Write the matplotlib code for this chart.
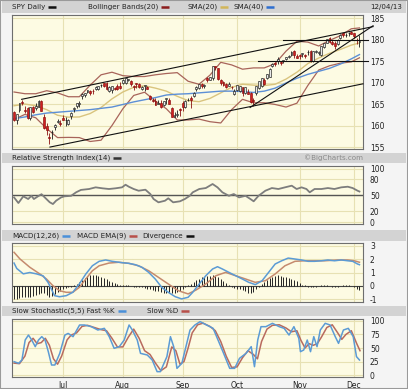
#!/usr/bin/env python3
"""SPY daily chart with Bollinger bands, RSI, MACD and slow stochastic panels."""

import matplotlib

matplotlib.use("Agg")
import matplotlib.pyplot as plt
import numpy as np
import pandas as pd
from matplotlib.lines import Line2D
from matplotlib.patches import Rectangle

# ---- data ----
holidays = ["2013-07-04", "2013-09-02", "2013-11-28"]
trading_days = pd.bdate_range("2013-06-05", "2013-12-04").drop(pd.to_datetime(holidays))

opens = [
    163.1, 161.3, 163.5, 165.4, 163.6, 164.1, 161.8, 164.2, 164.1, 164.4,
    165.6, 162.0, 160.0, 157.4, 158.4, 159.6, 160.9, 160.6, 161.8, 161.2,
    160.3, 162.3, 163.9, 164.6, 164.9, 166.8, 167.2, 167.8, 168.1, 168.0,
    168.4, 168.4, 169.4, 169.8, 170.0, 168.0, 168.2, 168.7, 169.1, 169.1,
    169.8, 170.0, 170.7, 170.4, 169.3, 169.8, 169.6, 168.4, 169.1, 169.0,
    166.9, 166.0, 165.6, 165.0, 165.2, 164.7, 166.2, 166.0, 164.1, 162.0,
    162.4, 163.9, 165.2, 164.4, 165.9, 166.4, 166.8, 168.6, 168.7, 169.7,
    169.3, 171.1, 170.6, 171.1, 173.8, 173.3, 170.6, 170.1, 169.7, 169.3,
    169.0, 167.4, 168.2, 168.1, 168.9, 167.5, 167.8, 167.6, 165.9, 167.5,
    168.8, 169.1, 170.6, 171.1, 171.4, 173.9, 174.4, 175.1, 174.8, 174.9,
    175.5, 175.9, 176.5, 177.3, 176.1, 176.4, 176.6, 176.3, 177.0, 177.4,
    175.0, 177.1, 176.9, 176.5, 178.3, 179.3, 180.3, 179.4, 179.3, 179.0,
    180.3, 181.5, 181.0, 181.4, 181.8, 181.6, 180.0, 179.5,
]
highs = [
    163.4, 162.8, 165.3, 165.9, 164.6, 164.3, 164.4, 164.5, 165.2, 165.9,
    165.9, 162.7, 160.5, 158.2, 158.9, 160.3, 161.6, 161.3, 162.4, 162.1,
    161.6, 163.1, 164.4, 165.3, 165.6, 167.5, 167.6, 168.3, 168.3, 168.4,
    169.2, 169.3, 169.7, 169.9, 170.1, 169.2, 169.2, 169.0, 169.6, 170.1,
    170.8, 171.0, 170.9, 170.5, 169.4, 170.0, 170.0, 169.1, 169.5, 169.1,
    167.2, 166.5, 166.4, 166.0, 166.0, 165.7, 166.3, 166.5, 164.3, 163.2,
    163.6, 164.0, 165.8, 165.9, 166.4, 166.9, 167.8, 169.1, 169.7, 169.8,
    169.6, 171.3, 171.3, 173.9, 173.9, 173.3, 170.9, 170.4, 169.9, 170.1,
    169.1, 168.4, 169.5, 169.2, 169.0, 168.9, 168.4, 167.8, 166.3, 169.2,
    170.3, 171.1, 171.0, 172.1, 173.3, 174.6, 174.8, 175.9, 175.0, 175.2,
    176.0, 176.3, 177.3, 177.5, 176.7, 176.6, 176.9, 176.7, 177.5, 177.5,
    177.3, 177.5, 177.3, 178.4, 179.3, 180.1, 180.5, 180.0, 179.7, 180.1,
    181.2, 181.6, 181.5, 181.7, 182.0, 181.6, 180.3, 181.0,
]
lows = [
    161.0, 160.3, 163.2, 164.7, 162.9, 161.6, 161.2, 162.9, 163.6, 164.4,
    163.4, 159.2, 157.8, 155.7, 156.9, 158.9, 160.6, 159.9, 161.2, 159.9,
    160.1, 161.6, 163.2, 164.1, 164.3, 166.2, 166.7, 167.5, 167.1, 167.4,
    168.2, 168.3, 169.0, 169.0, 168.3, 167.9, 167.6, 168.3, 168.3, 168.5,
    169.7, 169.7, 170.3, 169.3, 168.3, 168.7, 168.7, 168.3, 168.1, 168.4,
    165.9, 165.5, 164.8, 164.9, 164.1, 164.5, 165.1, 165.0, 161.9, 161.9,
    162.1, 162.3, 163.4, 164.1, 165.8, 164.0, 166.7, 168.1, 168.6, 168.8,
    168.7, 170.2, 170.5, 170.5, 173.0, 170.6, 169.5, 169.2, 168.8, 169.2,
    168.4, 167.1, 168.1, 167.8, 166.9, 167.4, 167.4, 165.3, 164.5, 167.1,
    168.6, 168.9, 169.5, 170.8, 171.4, 173.6, 173.9, 174.4, 174.0, 174.5,
    175.3, 175.7, 176.2, 175.7, 175.6, 175.5, 176.0, 175.8, 176.3, 174.7,
    174.8, 176.9, 176.3, 176.2, 178.0, 179.2, 179.1, 178.8, 177.7, 178.7,
    180.1, 180.7, 180.7, 180.8, 181.2, 180.4, 179.0, 178.3,
]
closes = [
    161.27, 162.73, 165.19, 165.17, 163.36, 161.86, 164.21, 163.18, 164.44, 165.74,
    163.45, 159.40, 159.07, 157.06, 158.57, 160.14, 161.08, 160.42, 161.36, 161.21,
    161.28, 163.02, 163.95, 165.13, 165.19, 167.44, 167.51, 168.15, 167.52, 167.95,
    168.87, 169.17, 169.50, 169.14, 168.52, 169.07, 169.13, 168.59, 168.59, 168.71,
    170.66, 170.95, 170.70, 169.73, 168.87, 169.62, 169.01, 168.94, 169.32, 168.46,
    166.06, 165.62, 164.87, 165.34, 164.36, 165.67, 166.30, 165.01, 162.00, 162.37,
    162.77, 163.65, 164.39, 165.75, 166.04, 166.04, 167.63, 169.04, 169.70, 169.16,
    169.54, 170.50, 171.26, 173.76, 173.57, 170.72, 169.93, 169.53, 169.04, 169.69,
    168.91, 168.01, 169.34, 169.18, 167.62, 168.89, 167.43, 165.48, 165.60, 169.17,
    170.26, 170.94, 169.70, 172.07, 173.22, 174.40, 174.37, 175.39, 174.55, 175.15,
    175.95, 176.23, 177.17, 176.29, 175.79, 176.21, 176.83, 176.27, 177.17, 174.93,
    177.29, 177.32, 176.96, 178.38, 179.28, 180.05, 179.42, 179.03, 178.40, 179.94,
    181.12, 180.98, 181.01, 181.48, 181.31, 180.79, 179.88, 179.72,
]

band_days = [0, 4, 8, 12, 16, 20, 24, 28, 32, 36, 40, 44, 48, 52, 56, 60, 64,
             68, 72, 76, 80, 84, 88, 92, 96, 100, 104, 108, 112, 116, 120, 124, 127]
bb_upper = [167.8, 167.4, 167.4, 168.1, 167.6, 166.7, 166.7, 169.4, 171.8, 172.4,
            171.6, 171.4, 171.4, 171.8, 172.1, 172.3, 170.3, 169.6, 171.7, 174.7,
            174.1, 173.1, 173.4, 173.4, 174.4, 177.3, 179.6, 179.4, 178.5, 179.8,
            180.9, 182.5, 182.7]
bb_lower = [161.4, 162.6, 161.8, 159.3, 157.2, 157.25, 157.2, 156.3, 156.6, 160.0,
            163.9, 167.0, 167.75, 165.7, 163.9, 161.3, 161.3, 161.5, 160.9, 160.6,
            163.7, 166.1, 165.3, 165.3, 164.9, 164.3, 165.2, 169.3, 172.9, 173.9,
            174.5, 174.8, 175.75]
sma20 = [164.6, 165.0, 164.6, 163.7, 162.4, 161.95, 162.0, 162.8, 164.2, 166.2,
         167.8, 168.9, 169.25, 168.7, 168.0, 166.8, 165.8, 165.55, 166.3, 167.6,
         168.9, 169.6, 169.4, 169.3, 169.6, 170.8, 172.4, 174.4, 175.7, 176.8,
         177.7, 178.7, 179.2]
sma40 = [161.6, 162.0, 162.5, 162.9, 163.1, 163.3, 163.5, 163.7, 164.0, 164.3,
         164.9, 165.5, 166.0, 166.5, 167.1, 167.3, 167.4, 167.6, 167.8, 168.0,
         168.0, 167.9, 167.7, 168.0, 168.7, 169.9, 171.0, 171.9, 172.6, 173.3,
         174.3, 175.5, 176.5]

# hand-drawn trend lines: start day, start price, end day, end price
trend_start_day = [2.8, 13.2, 98.9, 89.7, 86.8]
trend_start_price = [166.1, 155.0, 180.0, 175.0, 164.2]
trend_end_day = [132.0, 128.3, 130.0, 130.0, 132.0]
trend_end_price = [183.0, 169.7, 180.0, 175.0, 183.2]

rsi_days = [0, 1.6, 3.4, 5.2, 6.4, 7.3, 8.8, 10.1, 11.3, 13.1,
            14.3, 15.5, 17.3, 18.5, 21, 22.8, 24.6, 27.6, 30, 32.5,
            34.9, 37.3, 39.7, 41, 42.2, 44, 45.8, 48.3, 50.1, 51.3,
            53.1, 55.5, 56.7, 58.5, 61, 62.8, 64.6, 65.7, 68.1, 70.5,
            73, 74.8, 76.6, 79, 80.8, 82.7, 85.1, 86.9, 88.1, 89.9,
            92.4, 94.8, 97.2, 99.6, 102.1, 103.9, 105.7, 107.5, 108.7, 110.5,
            113, 115.4, 117.8, 120.3, 122.7, 124.5, 126.3, 127]
rsi_values = [46, 35.5, 48, 43, 49, 43, 48, 52, 46, 37,
              33.6, 40, 46, 48, 49, 55.5, 60, 61.7, 64.8, 63,
              61.7, 63, 64.8, 69.7, 66, 61.7, 58.5, 60.4, 52.3, 43,
              36.8, 39.8, 44.3, 36.8, 38.7, 43, 49, 55.5, 61.7, 63.5,
              71, 64.8, 55.5, 49, 52.3, 46, 49, 43, 38.7, 49,
              58.5, 63.5, 61.7, 64.8, 67.9, 61.7, 64.8, 61.7, 55.5, 61.7,
              61.7, 63.5, 61.7, 64.8, 66, 63.5, 58.5, 57]

macd_days = [0, 1, 3.4, 5.8, 8.2, 10.7, 12.5, 13.7, 14.9, 16.7,
             19.2, 21.6, 24, 26.4, 28.8, 31.3, 33.7, 36.1, 39.7, 42.2,
             44.6, 47, 49.5, 51.9, 54.3, 56.7, 59.2, 61.6, 64, 65.7,
             68.1, 70.5, 73, 74.8, 76.6, 79, 81.5, 83.9, 86.3, 88.7,
             91.2, 93.6, 96, 98.4, 100.8, 103.3, 105.7, 108.1, 110.5, 113,
             115.4, 117.8, 120.3, 122.7, 124.5, 126.3, 127]
macd_values = [1.7, 1.3, 0.9, 1.0, 0.9, 0.75, 0.27, -0.22, -0.72, -0.8,
               -0.72, -0.47, 0.15, 0.89, 1.5, 1.83, 1.93, 1.83, 1.73, 1.68,
               1.58, 1.39, 1.01, 0.52, -0.1, -0.47, -0.79, -0.96, -0.84, -0.47,
               0.15, 0.76, 1.26, 1.43, 1.26, 1.01, 0.76, 0.52, 0.27, 0.1,
               0.39, 1.01, 1.63, 1.87, 2.07, 2.0, 1.93, 1.83, 1.83, 1.87,
               1.93, 1.87, 1.93, 1.87, 1.83, 1.63, 1.58]
signal_days = [0, 2.2, 5.8, 9.5, 11.9, 14.3, 16.7, 19.2, 21.6, 24,
               26.4, 28.8, 31.3, 34.9, 38.5, 42.2, 45.8, 49.5, 53.1, 56.7,
               60.4, 64, 66.9, 70.5, 74.2, 77.8, 81.5, 85.1, 88.7, 92.4,
               96, 99.6, 103.3, 106.9, 110.5, 114.2, 119, 122.7, 125.1, 127]
signal_values = [2.5, 2.0, 1.39, 0.89, 0.52, 0.02, -0.35, -0.47, -0.47, -0.1,
                 0.52, 1.13, 1.5, 1.7, 1.76, 1.68, 1.5, 1.13, 0.64, 0.15,
                 -0.35, -0.59, -0.3, 0.15, 0.76, 1.01, 0.76, 0.52, 0.27, 0.39,
                 0.89, 1.5, 1.83, 1.87, 1.87, 1.87, 1.93, 1.93, 1.87, 1.76]
divergence = [
    -0.95, -0.95, -0.9, -0.85, -0.85, -0.8, -0.8, -0.75, -0.7, -0.6,
    -0.5, -0.5, -0.65, -0.8, -0.75, -0.6, -0.45, -0.35, -0.25, -0.15,
    -0.1, -0.05, 0.05, 0.15, 0.3, 0.45, 0.6, 0.75, 0.8, 0.85,
    0.8, 0.75, 0.7, 0.6, 0.5, 0.4, 0.3, 0.25, 0.15, 0.1,
    0.1, 0.1, 0.05, 0.0, -0.05, -0.1, -0.1, -0.1, -0.15, -0.2,
    -0.25, -0.3, -0.35, -0.4, -0.45, -0.5, -0.5, -0.5, -0.55, -0.5,
    -0.45, -0.35, -0.25, -0.1, 0.05, 0.15, 0.3, 0.45, 0.55, 0.65,
    0.7, 0.75, 0.75, 0.8, 0.75, 0.65, 0.5, 0.35, 0.2, 0.1,
    -0.05, -0.15, -0.2, -0.25, -0.3, -0.4, -0.5, -0.55, -0.45, -0.25,
    -0.05, 0.15, 0.3, 0.45, 0.6, 0.7, 0.75, 0.8, 0.75, 0.7,
    0.65, 0.6, 0.55, 0.45, 0.35, 0.2, 0.1, 0.05, -0.05, -0.1,
    -0.05, -0.05, 0.0, 0.05, 0.05, 0.05, 0.0, -0.05, -0.1, -0.05,
    0.0, 0.05, 0.05, 0.05, 0.0, -0.1, -0.2, -0.3,
]

stoch_k_days = [0, 1.7, 2.9, 4.1, 5.3, 6.5, 7.8, 9.0, 10.2, 11.4,
                12.6, 13.8, 15.0, 16.8, 18.7, 19.9, 21.7, 24.1, 25.9, 28.4,
                30.8, 33.2, 35.0, 36.8, 38.7, 40.5, 42.3, 43.5, 45.3, 46.5,
                49.0, 50.8, 52.6, 53.8, 56.2, 57.5, 58.7, 59.9, 61.7, 63.5,
                64.7, 66.5, 68.4, 70.8, 73.2, 75.0, 76.8, 79.3, 81.1, 82.9,
                85.3, 87.2, 88.4, 89.6, 90.8, 92.6, 95.0, 97.5, 99.3, 101.1,
                102.9, 104.7, 105.3, 106.5, 107.8, 109.0, 110.2, 111.4, 112.6, 114.4,
                116.2, 118.1, 119.3, 121.1, 122.9, 124.7, 125.9, 127]
stoch_k_values = [24.7, 21.6, 27.8, 64.8, 74, 64.8, 52.5, 64.8, 71, 64.8,
                  43.2, 18.5, 18.5, 40, 74, 77, 71, 92.6, 92.6, 89.5,
                  83.3, 86.4, 71, 49.4, 52.5, 64.8, 92.6, 83.3, 64.8, 40.1,
                  37, 27.8, 6.2, 6.2, 34, 71, 52.5, 12.3, 21.6, 58.6,
                  83.3, 92.6, 98.8, 92.6, 86.4, 64.8, 43.2, 12.3, 12.3, 30.9,
                  40.1, 52.5, 15.4, 64.8, 89.5, 89.5, 95.7, 89.5, 86.4, 74,
                  89.5, 67.9, 43.2, 46.3, 64.8, 43.2, 71, 52.5, 83.3, 95.7,
                  92.6, 71, 58.6, 83.3, 86.4, 71, 34, 27.8]
stoch_d_days = [0, 2, 4, 5.5, 7, 8.5, 10, 11.5, 13, 14.5,
                16, 17.5, 19.5, 21, 23, 25, 27, 29.5, 32, 34,
                36, 38, 40, 42, 44, 46, 48, 50, 52, 54,
                56, 58, 59.5, 61, 62.5, 64, 65.5, 67.5, 69.5, 72,
                74, 76, 78, 80, 82, 84, 86, 88, 89.5, 91,
                93, 95, 97.5, 100, 102, 104, 105.5, 107, 108.5, 110,
                111.5, 113, 115, 117, 119, 120.5, 122, 124, 126, 127.2]
stoch_d_values = [22, 21, 35, 60, 68, 58, 60, 68, 55, 30,
                  20, 35, 65, 74, 78, 90, 92, 88, 84, 82,
                  68, 52, 52, 70, 85, 68, 45, 38, 22, 8,
                  15, 52, 45, 20, 25, 50, 78, 93, 96, 90,
                  82, 62, 35, 14, 15, 32, 45, 38, 30, 62,
                  85, 92, 93, 87, 80, 82, 64, 50, 58, 55,
                  58, 70, 88, 93, 78, 66, 75, 82, 58, 45]

# ---- layout ----
W, H = 408, 389
TEXT = "#222222"
PANEL_BG = "#fdfbe3"
GRID = "#e7e1b3"
BAR_BG = "#d3d3d3"
PAGE_BG = "#f4f4f4"
FS = 5.5
HEAD_FS = 5.1

plt.rcParams["font.family"] = ["DejaVu Sans"]
plt.rcParams["axes.unicode_minus"] = False

x = np.arange(len(closes))
month_pos = [i for i in range(1, len(trading_days))
             if trading_days[i].month != trading_days[i - 1].month]
month_labels = [trading_days[i].strftime("%b") for i in month_pos]


def fig_rect(left, top, right, bottom):
    return [left / W, 1 - bottom / H, (right - left) / W, (bottom - top) / H]


def header(fig, top, bottom, entries, right_text=None, right_x=None, right_color=TEXT):
    fig.add_artist(Rectangle((2 / W, 1 - bottom / H), (W - 4) / W, (bottom - top) / H,
                             transform=fig.transFigure, facecolor=BAR_BG,
                             edgecolor="none", zorder=0))
    yc = 1 - (top + bottom) / 2 / H
    renderer = fig.canvas.get_renderer()
    for tx, label, color in entries:
        t = fig.text(tx / W, yc, label, fontsize=HEAD_FS, color=TEXT, va="center", ha="left")
        end = t.get_window_extent(renderer).x1 + 3
        fig.add_artist(Line2D([end / W, (end + 8) / W], [yc, yc],
                              transform=fig.transFigure, color=color, lw=1.8,
                              solid_capstyle="butt"))
    if right_text:
        fig.text(right_x / W, yc, right_text, fontsize=HEAD_FS, color=right_color,
                 va="center", ha="right")


def panel(fig, top, bottom, ylim, yticks, ylabels):
    ax = fig.add_axes(fig_rect(12, top, 363, bottom))
    ax.set_facecolor(PANEL_BG)
    ax.set_xlim(-0.75, 128.3)
    ax.set_ylim(*ylim)
    ax.set_xticks(month_pos)
    ax.set_yticks(yticks)
    ax.set_yticklabels(ylabels)
    ax.grid(True, color=GRID, lw=0.8)
    ax.set_axisbelow(True)
    ax.yaxis.tick_right()
    ax.tick_params(axis="y", length=0, pad=5, labelsize=FS, labelcolor=TEXT)
    ax.tick_params(axis="x", length=0, labelbottom=False)
    for spine in ax.spines.values():
        spine.set_color("#6e6e6e")
        spine.set_linewidth(0.8)
    return ax


fig = plt.figure(figsize=(W / 100, H / 100), dpi=100, facecolor=PAGE_BG)
fig.add_artist(Rectangle((0, 0), 1, 1, transform=fig.transFigure, fill=False,
                         edgecolor="#9a9a9a", lw=1.5))

# price panel
header(fig, 1, 13,
       [(12, "SPY Daily", "#111111"),
        (88, "Bollinger Bands(20)", "#8b1c1c"),
        (187, "SMA(20)", "#d2b65a"),
        (233, "SMA(40)", "#2e6fd0")],
       right_text="12/04/13", right_x=402)
price_ticks = [155, 160, 165, 170, 175, 180, 185]
ax = panel(fig, 15, 149, (154.55, 185.7), price_ticks, [str(t) for t in price_ticks])
ax.plot(band_days, bb_upper, color="#a8645a", lw=0.9, zorder=2)
ax.plot(band_days, bb_lower, color="#a8645a", lw=0.9, zorder=2)
ax.plot(band_days, sma20, color="#d9c47e", lw=1.0, zorder=2)
ax.plot(band_days, sma40, color="#5c8fd6", lw=1.0, zorder=2)

o, h, l, c = (np.array(v) for v in (opens, highs, lows, closes))
up = c >= o
ax.vlines(x, l, h, colors=np.where(up, "#1a1a1a", "#8a1010"), lw=0.6, zorder=4)
ax.bar(x, np.maximum(np.abs(c - o), 0.12), bottom=np.minimum(o, c), width=0.7,
       color=np.where(up, "#e8e8e8", "#d02020"),
       edgecolor=np.where(up, "#1a1a1a", "#8a1010"), lw=0.45, zorder=5)
for sd, sp, ed, ep in zip(trend_start_day, trend_start_price, trend_end_day, trend_end_price):
    ax.plot([sd, ed], [sp, ep], color="#111111", lw=0.8, clip_on=False, zorder=6)

# RSI panel
header(fig, 153, 163, [(12, "Relative Strength Index(14)", "#333333")],
       right_text="\u00a9BigCharts.com", right_x=363, right_color="#8a8a8a")
ax = panel(fig, 166, 224, (-3.7, 104.7), [0, 20, 50, 80, 100],
           ["0", "20", "50", "80", "100"])
ax.axhline(50, color="#555555", lw=1.0, zorder=2)
ax.plot(rsi_days, rsi_values, color="#7d7d7d", lw=1.3, zorder=3)

# MACD panel
header(fig, 230, 241,
       [(12, "MACD(12,26)", "#4a90d9"),
        (77, "MACD EMA(9)", "#b8504a"),
        (142, "Divergence", "#111111")])
ax = panel(fig, 243, 302, (-1.19, 3.19), [-1, 0, 1, 2, 3],
           ["-1", "0", "1", "2", "3"])
ax.axhline(0, color="#444444", lw=0.8, zorder=2)
ax.vlines(x, 0, divergence, colors="#222222", lw=0.7, zorder=3)
ax.plot(signal_days, signal_values, color="#c58a6e", lw=1.1, zorder=4)
ax.plot(macd_days, macd_values, color="#5b9bd5", lw=1.1, zorder=5)

# slow stochastic panel
header(fig, 306, 316,
       [(12, "Slow Stochastic(5,5) Fast %K", "#4a90d9"),
        (147, "Slow %D", "#b8504a")])
ax = panel(fig, 319, 377, (-3.7, 103.7), [0, 25, 50, 75, 100],
           ["0", "25", "50", "75", "100"])
ax.plot(stoch_d_days, stoch_d_values, color="#b86a5e", lw=1.1, zorder=3)
ax.plot(stoch_k_days, stoch_k_values, color="#5b9bd5", lw=1.1, zorder=4)
ax.set_xticklabels(month_labels)
ax.tick_params(axis="x", labelbottom=True, labelsize=FS, labelcolor=TEXT, pad=3)

fig.savefig("out.png", dpi=100, facecolor=fig.get_facecolor())
